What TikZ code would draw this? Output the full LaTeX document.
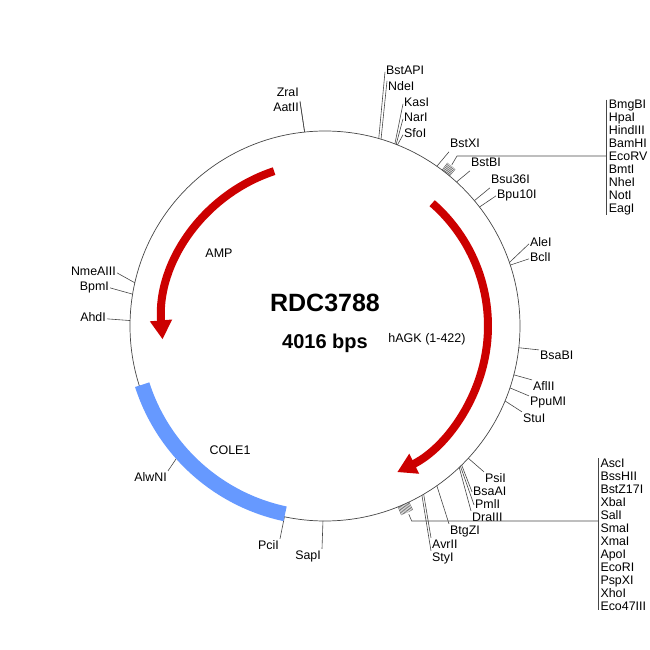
\documentclass[tikz,border=0pt]{standalone}
\usepackage{fontspec}
\setmainfont{Liberation Sans}
\usetikzlibrary{arrows.meta}
\definecolor{ampred}{RGB}{204,0,0}
\definecolor{oriblue}{RGB}{102,153,255}
\definecolor{mapgray}{RGB}{70,70,70}

\begin{document}
\begin{tikzpicture}[x=1pt, y=1pt,
    enz/.style={font=\fontsize{12.4}{13}\selectfont, inner sep=1pt, text height=8.9pt, text depth=2.6pt},
    enzlist/.style={font=\fontsize{12.4}{13}\selectfont, align=left, inner xsep=2pt, inner ysep=0pt, anchor=north west},
    leader/.style={draw=mapgray, line width=0.6pt},
    feat/.style={line width=8pt, ampred, -{Triangle[length=19pt, width=21pt]}},
    featlabel/.style={font=\fontsize{12.5}{14}\selectfont}]
    \useasboundingbox (-325,-324) rectangle (325,326);

    \node[font=\fontsize{25}{30}\selectfont\bfseries] (name) at (0,23) {RDC3788};
    \node[font=\fontsize{20}{24}\selectfont\bfseries] (size) at (0,-17) {4016 bps};

    \draw[mapgray, line width=0.7pt] (0,0) circle[radius=195];

    \foreach \n/\a/\x/\y/\p in {BstAPI/74/60/251/west, NdeI/73.3/62/235/north west,
        KasI/69/78/219/west, NarI/68.6/78/204/west, SfoI/68.2/78/188/west,
        BstXI/55/124/178/south west, BstBI/47.6/145/159/south west,
        Bsu36I/40/165/142/south west, Bpu10I/37.6/171/127/west,
        AleI/19/204/79/west, BclI/18.2/204/64/west, BsaBI/-6.4/214/-34/north west,
        AflII/-14.5/207/-64/north west, PpuMI/-18.5/204/-80/north west, StuI/-22.6/197/-96/north west,
        PsiI/-42.7/159/-156/north west, BsaAI/-45.5/147/-169/west, PmlI/-46/149/-182/west,
        DraIII/-46.5/146/-195/north west, BtgZI/-55/124/-208/north west,
        AvrII/-59.6/106/-222/north west, StyI/-60.2/106/-235/north west} {
        \coordinate (s\n) at (\a:195);
        \node[enz, anchor=base west] (l\n) at (\x,\y) {\n};
        \draw[leader] (s\n) -- (l\n.\p);
    }

    \foreach \n/\a/\x/\y/\p in {ZraI/96/-25/229/south east, AatII/96/-25/214/north east,
        NmeAIII/167.2/-208/50/east, BpmI/170.6/-215/35/east, AhdI/178.4/-218/4/east,
        AlwNI/221.4/-157/-155/north east, PciI/258/-45/-223/north east, SapI/269.4/-3/-233/north east} {
        \coordinate (s\n) at (\a:195);
        \node[enz, anchor=base east] (l\n) at (\x,\y) {\n};
        \draw[leader] (s\n) -- (l\n.\p);
    }

    \foreach \t in {50.3,50.65,...,53.4}
        \draw[leader, line width=0.4pt] (\t:195) -- (\t:204);
    \coordinate (hubA) at (51.8:205);
    \coordinate (kinkA) at (132,170);
    \node[enzlist] (listA) at (281.7,226.3) {BmgBI\\HpaI\\HindIII\\BamHI\\EcoRV\\BmtI\\NheI\\NotI\\EagI};
    \draw[leader] (hubA) -- (kinkA) -- (kinkA -| listA.west);
    \draw[leader] (listA.north west) -- (listA.south west);

    \foreach \t in {-64.5,-64.85,...,-68.1}
        \draw[leader, line width=0.4pt] (\t:195) -- (\t:204);
    \coordinate (hubB) at (-66:206);
    \coordinate (kinkB) at (86.7,-195);
    \node[enzlist] (listB) at (273.3,-132.4) {AscI\\BssHII\\BstZ17I\\XbaI\\SalI\\SmaI\\XmaI\\ApoI\\EcoRI\\PspXI\\XhoI\\Eco47III};
    \draw[leader] (hubB) -- (kinkB) -- (kinkB -| listB.west);
    \draw[leader] (listB.north west) -- (listB.south west);

    \draw[feat] (108.2:163) arc[start angle=108.2, end angle=184.7, radius=163];
    \draw[feat] (48.9:163) arc[start angle=48.9, end angle=-63.7, radius=163];
    \draw[oriblue, line width=15pt] (197.8:192) arc[start angle=197.8, end angle=258, radius=192];

    \node[featlabel] (amp) at (-106,73) {AMP};
    \node[featlabel] (hagk) at (102,-13) {hAGK (1-422)};
    \node[featlabel] (cole) at (-95,-124) {COLE1};
\end{tikzpicture}
\end{document}
